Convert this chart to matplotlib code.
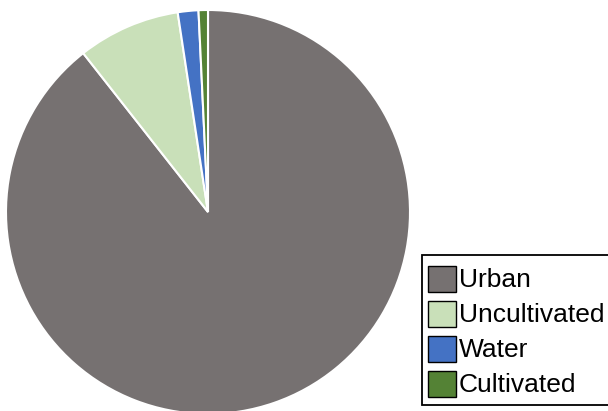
import matplotlib
matplotlib.use("Agg")
import matplotlib.pyplot as plt
from matplotlib.patches import Rectangle

labels = ["Urban", "Uncultivated", "Water", "Cultivated"]
shares = [89.4, 8.2, 1.65, 0.75]
colors = ["#767171", "#C9E0B9", "#4472C4", "#548235"]

plt.rcParams["font.family"] = ["Liberation Sans", "DejaVu Sans"]

fig = plt.figure(figsize=(6.08, 4.11), dpi=100)
W, H = 608, 411
cx, cy, r = 208, 212, 202
ax = fig.add_axes([(cx - r) / W, (H - cy - r) / H, 2 * r / W, 2 * r / H])

wedges, _ = ax.pie(shares, colors=colors, startangle=90, counterclock=False,
                   radius=1, wedgeprops=dict(edgecolor="white", linewidth=1.5))
ax.set_xlim(-1, 1)
ax.set_ylim(-1, 1)
ax.set_aspect("equal")
ax.axis("off")

# legend drawn by hand, in figure pixels (top-left origin)
def px(x, y):
    return x / W, 1 - y / H

bx0, by0, bx1, by1 = 421.5, 255, 615, 405
fig.patches.append(Rectangle(px(bx0, by1), (bx1 - bx0) / W, (by1 - by0) / H,
                             transform=fig.transFigure, facecolor="white",
                             edgecolor="black", linewidth=1.3))
for i, (lab, col) in enumerate(zip(labels, colors)):
    top = 266 + 35 * i
    fig.patches.append(Rectangle(px(428, top + 26), 28 / W, 26 / H,
                                 transform=fig.transFigure, facecolor=col,
                                 edgecolor="black", linewidth=1.0))
    fig.text(*px(459, top + 14), lab, fontsize=19, va="center", ha="left")

fig.savefig("out.png", dpi=100)
